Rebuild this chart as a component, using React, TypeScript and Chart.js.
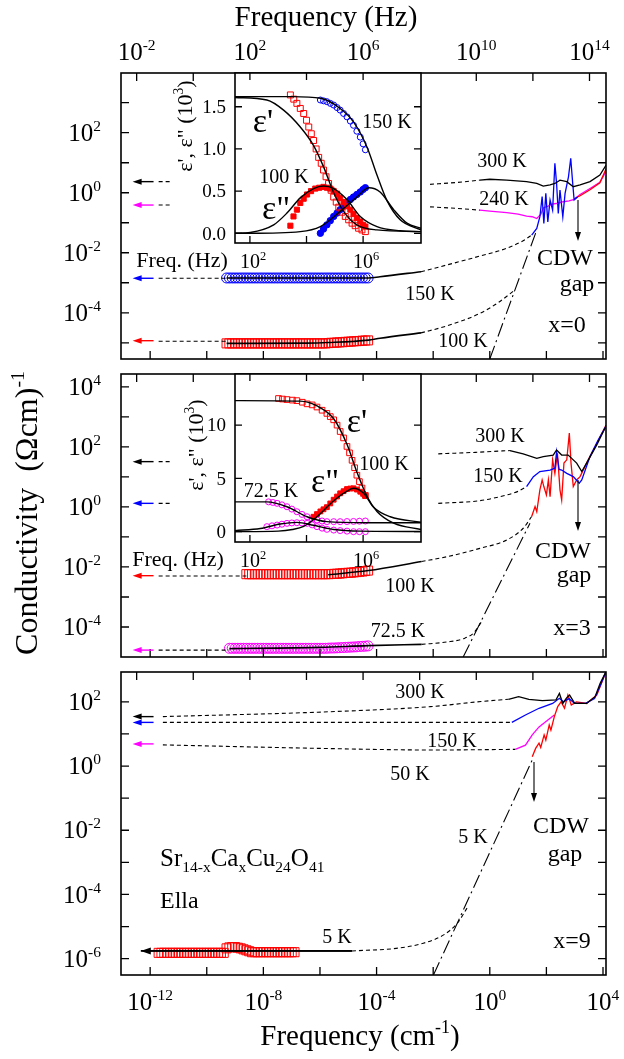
import React, { useEffect, useRef } from "react";
import { Chart, registerables } from "chart.js";

Chart.register(...registerables);

/* ---------------- page / frame geometry ---------------- */
const W = 624;
const H = 1059;
const SERIF = '"Liberation Serif", "Times New Roman", Times, serif';
const BLACK = "#000000";
const BLUE = "#0000ff";
const RED = "#ff0000";
const MAGENTA = "#ff00ff";

const FRAME_L = 121;
const FRAME_R = 606;
const PANEL_TOPS = [73, 374, 672];
const PANEL_BOTTOMS = [359, 657, 975];
const TICK = 8;
const TICK_FONT = 25;
const Y_LABEL_RIGHT = 101;
const TOP_LABEL_BASE = 60;
const BOTTOM_LABEL_BASE = 1010;

/* ---------------- axes (log10 units) ---------------- */
const X_LOG_MIN = -13.03; // log10(cm^-1) at left frame
const X_LOG_MAX = 4.106;
const HZ_SHIFT = 10.477; // log10(Hz per cm^-1)
const CM_TICKS = [-12, -10, -8, -6, -4, -2, 0, 2, 4];
const CM_LABELS = [-12, -8, -4, 0, 4];
const HZ_TICKS = [-2, 0, 2, 4, 6, 8, 10, 12, 14];
const HZ_LABELS = [-2, 2, 6, 10, 14];
const Y_RANGE = [
  [-5.54, 3.99],
  [-5.0, 4.43],
  [-6.51, 2.93],
];
const Y_LABELS = [
  [2, 0, -2, -4],
  [4, 2, 0, -2, -4],
  [2, 0, -2, -4, -6],
];

/* ---------------- x grids of dielectric bands (log10 cm^-1) ---------------- */
const GRID_A = [-9.3, -9.2, -9.1, -9.0, -8.9, -8.8, -8.7, -8.6, -8.5, -8.4, -8.3, -8.2, -8.1, -8.0, -7.9, -7.8, -7.7, -7.6, -7.5, -7.4, -7.3, -7.2, -7.1, -7.0, -6.9, -6.8, -6.7, -6.6, -6.5, -6.4, -6.3, -6.2, -6.1, -6.0, -5.9, -5.8, -5.7, -5.6, -5.5, -5.4, -5.3, -5.2, -5.1, -5.0, -4.9, -4.8, -4.7, -4.6, -4.5, -4.4, -4.3];
const GRID_B100 = [-8.6, -8.5, -8.4, -8.3, -8.2, -8.1, -8.0, -7.9, -7.8, -7.7, -7.6, -7.5, -7.4, -7.3, -7.2, -7.1, -7.0, -6.9, -6.8, -6.7, -6.6, -6.5, -6.4, -6.3, -6.2, -6.1, -6.0, -5.9, -5.8, -5.7, -5.6, -5.5, -5.4, -5.3, -5.2, -5.1, -5.0, -4.9, -4.8, -4.7, -4.6, -4.5, -4.4, -4.3];
const GRID_B72 = [-9.2, -9.1, -9.0, -8.9, -8.8, -8.7, -8.6, -8.5, -8.4, -8.3, -8.2, -8.1, -8.0, -7.9, -7.8, -7.7, -7.6, -7.5, -7.4, -7.3, -7.2, -7.1, -7.0, -6.9, -6.8, -6.7, -6.6, -6.5, -6.4, -6.3, -6.2, -6.1, -6.0, -5.9, -5.8, -5.7, -5.6, -5.5, -5.4, -5.3, -5.2, -5.1, -5.0, -4.9, -4.8, -4.7, -4.6, -4.5, -4.4, -4.3];
const GRID_C5 = [-11.7, -11.6, -11.5, -11.4, -11.3, -11.2, -11.1, -11.0, -10.9, -10.8, -10.7, -10.6, -10.5, -10.4, -10.3, -10.2, -10.1, -10.0, -9.9, -9.8, -9.7, -9.6, -9.5, -9.4, -9.3, -9.2, -9.1, -9.0, -8.9, -8.8, -8.7, -8.6, -8.5, -8.4, -8.3, -8.2, -8.1, -8.0, -7.9, -7.8, -7.7, -7.6, -7.5, -7.4, -7.3, -7.2, -7.1, -7.0, -6.9];
const LEAD_SHORT_X = [-11.7, -11.28];
const ARROW_TAIL_X = -11.88;
const ARROW_HEAD_X = -12.62;

/* ---------------- panel x = 0 (log10 values) ---------------- */
const A_ARROW_Y = [0.37, -0.41, -2.85, -4.93];
const A300_DASH_X = [-2.11, -1.2, -0.35];
const A300_DASH_Y = [0.28, 0.34, 0.42];
const A300_X = [-0.35, 0.0, 0.6, 1.3, 1.66, 1.89, 2.13, 2.3, 2.48, 2.72, 2.95, 3.19, 3.54, 3.89, 4.11];
const A300_Y = [0.42, 0.45, 0.42, 0.37, 0.31, 0.22, 0.26, 0.31, 0.42, 0.37, 0.2, 0.26, 0.37, 0.59, 0.92];
const A240_DASH_X = [-2.11, -1.2, -0.35];
const A240_DASH_Y = [-0.47, -0.52, -0.58];
const A240_X = [-0.35, 0.0, 0.6, 1.0, 1.3, 1.5, 1.66, 1.8, 1.9, 2.05, 2.2, 2.4, 2.6, 2.8, 2.98, 3.19, 3.54, 3.89, 4.11];
const A240_Y = [-0.58, -0.61, -0.66, -0.71, -0.78, -0.8, -0.86, -0.72, -0.5, -0.45, -0.38, -0.35, -0.3, -0.27, -0.22, -0.06, 0.14, 0.35, 0.72];
const A150_OPT_X = [1.48, 1.66, 1.77, 1.85, 1.91, 1.98, 2.05, 2.13, 2.22, 2.3, 2.36, 2.42, 2.48, 2.58, 2.66, 2.78, 2.86, 2.93, 2.98, 3.1];
const A150_OPT_Y = [-1.41, -1.19, -0.8, -0.13, -1.02, -0.02, -0.97, -0.24, -0.58, 0.98, 0.31, -0.69, 0.09, -0.8, -0.02, 0.53, 1.15, 0.31, -0.24, -0.14];
const A100_OPT_X = [2.98, 3.19, 3.54, 3.89, 4.11];
const A100_OPT_Y = [-0.2, -0.1, 0.1, 0.33, 0.8];
const A150_BAND_Y = [-2.84, -2.84, -2.84, -2.84, -2.84, -2.84, -2.84, -2.84, -2.84, -2.84, -2.84, -2.84, -2.84, -2.84, -2.84, -2.84, -2.84, -2.84, -2.84, -2.84, -2.84, -2.84, -2.84, -2.84, -2.84, -2.84, -2.84, -2.84, -2.84, -2.84, -2.84, -2.84, -2.84, -2.84, -2.84, -2.84, -2.84, -2.84, -2.84, -2.84, -2.84, -2.84, -2.84, -2.84, -2.84, -2.84, -2.84, -2.84, -2.84, -2.84, -2.84];
const A150_FIT_X = [-9.3, -6.5, -4.29, -3.88, -2.43];
const A150_FIT_Y = [-2.84, -2.84, -2.84, -2.8, -2.63];
const A150_DASH_X = [-2.43, -1.53, -0.35, 0.6, 1.18, 1.48];
const A150_DASH_Y = [-2.63, -2.41, -2.11, -1.85, -1.6, -1.41];
const A100_BAND_Y = [-5.02, -5.02, -5.02, -5.02, -5.02, -5.02, -5.02, -5.02, -5.02, -5.02, -5.02, -5.02, -5.02, -5.02, -5.02, -5.02, -5.02, -5.02, -5.02, -5.02, -5.02, -5.02, -5.02, -5.02, -5.02, -5.02, -5.02, -5.02, -5.02, -5.02, -5.02, -5.02, -5.02, -5.02, -5.02, -5.02, -5.01, -5.0, -5.0, -4.99, -4.985, -4.98, -4.97, -4.965, -4.96, -4.95, -4.945, -4.94, -4.93, -4.925, -4.92];
const A100_FIT_X = [-9.3, -6.5, -5.7, -4.29, -3.88, -2.43];
const A100_FIT_Y = [-5.02, -5.01, -4.99, -4.91, -4.85, -4.67];
const A100_DASH_X = [-2.43, -1.53, -0.35, 0.3, 0.89];
const A100_DASH_Y = [-4.67, -4.44, -4.02, -3.66, -3.24];
const A_DD_X = [0.0, 1.66];
const A_DD_Y = [-5.54, -1.24];

/* ---------------- panel x = 3 ---------------- */
const B_ARROW_Y = [1.51, 0.12, -2.29, -4.77];
const B300_DASH_X = [-1.82, -0.5, 0.71];
const B300_DASH_Y = [1.77, 1.82, 1.88];
const B300_X = [0.71, 1.18, 1.66, 1.89, 2.24, 2.36, 2.54, 2.77, 3.07, 3.25, 3.42, 3.78, 4.11];
const B300_Y = [1.88, 1.77, 1.62, 1.68, 1.73, 1.9, 1.73, 1.73, 1.46, 1.18, 1.46, 2.07, 2.7];
const B150_DASH_X = [-1.82, -0.35, 0.6, 1.0, 1.3];
const B150_DASH_Y = [0.12, 0.21, 0.4, 0.52, 0.68];
const B150_X = [1.3, 1.54, 1.77, 2.13, 2.3, 2.36, 2.45, 2.54, 2.72, 2.95, 3.16, 3.25, 3.54, 3.83, 4.11];
const B150_Y = [0.68, 1.01, 1.18, 1.23, 1.29, 1.84, 1.25, 1.23, 1.12, 1.01, 0.79, 0.9, 1.68, 2.23, 2.7];
const B100_OPT_X = [1.48, 1.6, 1.66, 1.77, 1.85, 1.91, 2.0, 2.07, 2.13, 2.22, 2.3, 2.39, 2.48, 2.54, 2.62, 2.72, 2.81, 2.87, 2.95, 3.07, 3.19, 3.42, 3.78, 4.11];
const B100_OPT_Y = [-0.32, 0.01, -0.16, 0.57, 0.9, 0.68, 0.4, 0.9, 0.34, 1.57, 1.12, 1.79, 0.57, 0.23, 1.46, 1.57, 2.46, 1.46, 0.68, 0.9, 1.01, 1.46, 2.12, 2.73];
const B100_BAND_Y = [-2.24, -2.24, -2.24, -2.24, -2.24, -2.24, -2.24, -2.24, -2.24, -2.24, -2.24, -2.24, -2.24, -2.24, -2.24, -2.24, -2.24, -2.24, -2.24, -2.24, -2.24, -2.24, -2.24, -2.24, -2.24, -2.24, -2.24, -2.24, -2.24, -2.24, -2.235, -2.23, -2.225, -2.22, -2.21, -2.2, -2.195, -2.19, -2.18, -2.17, -2.16, -2.15, -2.135, -2.12];
const B100_FIT_X = [-5.71, -4.29, -2.41];
const B100_FIT_Y = [-2.26, -2.12, -1.82];
const B100_DASH_X = [-2.41, -1.52, -0.35, 0.6, 1.18, 1.48];
const B100_DASH_Y = [-1.82, -1.66, -1.38, -1.1, -0.71, -0.32];
const B72_BAND_Y = [-4.71, -4.71, -4.71, -4.71, -4.71, -4.71, -4.71, -4.71, -4.71, -4.71, -4.71, -4.71, -4.71, -4.71, -4.71, -4.71, -4.71, -4.71, -4.71, -4.71, -4.71, -4.71, -4.71, -4.71, -4.71, -4.71, -4.71, -4.71, -4.71, -4.71, -4.71, -4.71, -4.71, -4.71, -4.71, -4.705, -4.7, -4.7, -4.695, -4.69, -4.685, -4.68, -4.675, -4.67, -4.665, -4.66, -4.65, -4.645, -4.64, -4.63];
const B72_FIT_X = [-9.2, -6.0, -4.29, -2.41];
const B72_FIT_Y = [-4.72, -4.68, -4.62, -4.58];
const B72_DASH_X = [-2.41, -1.52, -0.9, -0.55, -0.29];
const B72_DASH_Y = [-4.58, -4.5, -4.38, -4.18, -3.82];
const B_DD_X = [-0.94, 1.42];
const B_DD_Y = [-5.0, -0.54];

/* ---------------- panel x = 9 ---------------- */
const C_ARROW_Y = [1.54, 1.36, 0.69];
const C300_DASH_X = [-11.55, -5.72, -2.11, -0.31, 0.66];
const C300_DASH_Y = [1.54, 1.69, 1.85, 2.01, 2.08];
const C300_X = [0.66, 1.02, 1.38, 1.86, 2.34, 2.46, 2.58, 2.7, 2.82, 3.0, 3.42, 3.72, 3.9, 4.11];
const C300_Y = [2.08, 2.16, 2.08, 2.04, 2.06, 2.26, 1.95, 2.11, 2.21, 1.95, 1.95, 2.16, 2.58, 2.95];
const C150_DASH_X = [-11.55, 0.78];
const C150_DASH_Y = [1.36, 1.36];
const C150_X = [0.78, 1.26, 1.74, 2.22, 2.46, 2.6, 2.8, 3.0, 3.4, 3.7, 3.9, 4.11];
const C150_Y = [1.36, 1.59, 1.8, 1.95, 2.11, 2.0, 2.1, 1.95, 1.96, 2.1, 2.5, 2.95];
const C50_DASH_X = [-11.55, -6.0, -2.0, 0.9];
const C50_DASH_Y = [0.66, 0.55, 0.5, 0.52];
const C50_X = [0.9, 1.26, 1.5, 1.74, 2.04, 2.28];
const C50_Y = [0.52, 0.65, 0.97, 1.22, 1.43, 1.59];
const C5_OPT_X = [1.5, 1.62, 1.74, 1.8, 1.92, 1.98, 2.1, 2.16, 2.28, 2.4, 2.52, 2.64, 2.76, 2.88, 3.06, 3.42, 3.78, 4.11];
const C5_OPT_Y = [0.29, 0.55, 0.71, 0.58, 0.97, 0.81, 1.28, 1.12, 1.54, 1.85, 2.0, 1.8, 2.21, 1.9, 2.0, 1.95, 2.21, 2.95];
const C5_BAND_Y = [-5.82, -5.82, -5.82, -5.82, -5.82, -5.82, -5.82, -5.82, -5.82, -5.82, -5.82, -5.82, -5.82, -5.82, -5.82, -5.82, -5.82, -5.82, -5.82, -5.82, -5.82, -5.82, -5.82, -5.82, -5.68, -5.65, -5.64, -5.64, -5.66, -5.68, -5.71, -5.74, -5.77, -5.8, -5.8, -5.8, -5.8, -5.8, -5.8, -5.8, -5.8, -5.8, -5.8, -5.8, -5.8, -5.8, -5.8, -5.8, -5.8];
const C5_LINE_X = [-4.87, -12.33];
const C5_LINE_Y = -5.76;
const C5_DASH_X = [-4.87, -3.31, -2.35, -1.63, -1.15, -0.8];
const C5_DASH_Y = [-5.76, -5.68, -5.52, -5.26, -4.9, -4.42];
const C_DD_X = [-1.99, 1.5];
const C_DD_Y = [-6.51, 0.19];

/* ---------------- insets (x: log10 Hz, y: 10^3 units) ---------------- */
const INSET_X_LOG = [1.473, 8.046];
const INSET_X_TICKS = [2, 4, 6];
const INSET_X_LABELS = [2, 6];
const INSET_Y_RANGE = [
  [-0.115, 1.9],
  [-0.97, 14.8],
];
const INSET_Y_TICKS = [
  [0, 0.5, 1.0, 1.5],
  [0, 5, 10],
];
const INSET_Y_TICK_TEXT = [
  ["0.0", "0.5", "1.0", "1.5"],
  ["0", "5", "10"],
];

const IA100_E1_X = [3.43, 3.55, 3.66, 3.78, 3.9, 4.0, 4.08, 4.17, 4.25, 4.34, 4.43, 4.52, 4.6, 4.69, 4.78, 4.87, 4.96, 5.05, 5.14, 5.25, 5.37, 5.49, 5.61, 5.72, 5.84, 5.96, 6.08];
const IA100_E1_Y = [1.64, 1.59, 1.54, 1.48, 1.42, 1.34, 1.26, 1.18, 1.1, 1.0, 0.9, 0.83, 0.75, 0.67, 0.59, 0.51, 0.43, 0.37, 0.31, 0.25, 0.2, 0.16, 0.12, 0.09, 0.06, 0.04, 0.02];
const IA100_E1_FIT_X = [1.47, 2.6, 3.19, 3.78, 4.25, 4.6, 4.96, 5.31, 5.78, 6.49, 8.05];
const IA100_E1_FIT_Y = [1.61, 1.58, 1.46, 1.26, 1.04, 0.79, 0.48, 0.26, 0.1, 0.04, 0.02];
const IA100_E2_X = [3.43, 3.54, 3.66, 3.78, 3.9, 4.02, 4.16, 4.31, 4.45, 4.6, 4.72, 4.84, 4.96, 5.08, 5.19, 5.31, 5.43, 5.55, 5.66, 5.78, 5.9, 6.0, 6.08];
const IA100_E2_Y = [0.09, 0.2, 0.28, 0.36, 0.41, 0.46, 0.5, 0.53, 0.54, 0.55, 0.54, 0.53, 0.5, 0.47, 0.42, 0.37, 0.32, 0.28, 0.23, 0.18, 0.14, 0.1, 0.08];
const IA100_E2_FIT_X = [1.47, 2.01, 2.84, 3.31, 3.78, 4.25, 4.6, 4.96, 5.43, 5.9, 6.49, 7.31, 8.05];
const IA100_E2_FIT_Y = [0.0, 0.01, 0.1, 0.24, 0.42, 0.53, 0.56, 0.53, 0.4, 0.2, 0.08, 0.03, 0.02];
const IA150_E1_X = [4.49, 4.6, 4.72, 4.84, 4.96, 5.08, 5.19, 5.31, 5.43, 5.55, 5.66, 5.78, 5.9, 6.0, 6.08];
const IA150_E1_Y = [1.58, 1.57, 1.56, 1.54, 1.52, 1.49, 1.46, 1.42, 1.38, 1.33, 1.28, 1.21, 1.14, 1.06, 0.99];
const IA150_E1_FIT_X = [1.47, 3.5, 4.5, 5.19, 5.66, 6.14, 6.49, 6.84, 7.31, 8.05];
const IA150_E1_FIT_Y = [1.62, 1.62, 1.6, 1.48, 1.32, 1.02, 0.69, 0.39, 0.16, 0.04];
const IA150_E2_X = [4.49, 4.6, 4.72, 4.84, 4.96, 5.08, 5.19, 5.31, 5.43, 5.55, 5.66, 5.78, 5.9, 6.0, 6.08];
const IA150_E2_Y = [0.0, 0.05, 0.1, 0.15, 0.2, 0.24, 0.28, 0.32, 0.36, 0.4, 0.43, 0.46, 0.49, 0.52, 0.54];
const IA150_E2_FIT_X = [1.47, 2.01, 3.78, 4.49, 5.19, 5.78, 6.2, 6.6, 7.08, 7.55, 8.05];
const IA150_E2_FIT_Y = [0.0, 0.0, 0.02, 0.08, 0.26, 0.43, 0.54, 0.49, 0.28, 0.12, 0.06];

const IB100_E1_X = [3.01, 3.15, 3.31, 3.5, 3.66, 3.85, 4.02, 4.2, 4.37, 4.55, 4.72, 4.84, 4.96, 5.08, 5.19, 5.31, 5.43, 5.52, 5.61, 5.7, 5.78, 5.87, 5.96, 6.08];
const IB100_E1_Y = [12.5, 12.45, 12.4, 12.35, 12.3, 12.15, 12.0, 11.9, 11.7, 11.4, 11.1, 10.8, 10.5, 10.0, 9.4, 8.8, 8.0, 7.4, 6.7, 6.0, 5.3, 4.7, 4.1, 3.4];
const IB100_E1_FIT_X = [1.47, 3.78, 4.37, 4.96, 5.43, 5.78, 6.14, 6.49, 7.08, 8.05];
const IB100_E1_FIT_Y = [12.3, 12.25, 11.8, 10.6, 8.2, 5.6, 3.3, 1.9, 0.8, 0.2];
const IB100_E2_X = [4.25, 4.37, 4.49, 4.6, 4.72, 4.84, 4.96, 5.08, 5.19, 5.31, 5.43, 5.55, 5.66, 5.78, 5.9, 6.0, 6.08];
const IB100_E2_Y = [1.4, 1.65, 1.9, 2.1, 2.3, 2.65, 3.0, 3.3, 3.6, 3.8, 4.0, 4.05, 4.07, 3.95, 3.75, 3.55, 3.35];
const IB100_E2_FIT_X = [1.47, 3.0, 3.5, 3.9, 4.37, 4.96, 5.43, 5.66, 6.02, 6.37, 6.96, 8.05];
const IB100_E2_FIT_Y = [0.0, 0.05, 0.2, 0.5, 1.4, 2.9, 3.8, 4.07, 3.6, 2.3, 1.4, 0.88];
const IB72_E1_X = [2.66, 2.81, 2.96, 3.13, 3.31, 3.48, 3.66, 3.84, 4.02, 4.2, 4.37, 4.55, 4.72, 4.96, 5.19, 5.43, 5.66, 5.87, 6.08];
const IB72_E1_Y = [2.8, 2.74, 2.66, 2.52, 2.34, 2.12, 1.87, 1.62, 1.4, 1.22, 1.1, 1.0, 0.94, 0.94, 0.94, 0.95, 0.96, 0.98, 1.0];
const IB72_E1_FIT_X = [1.47, 2.6, 3.31, 4.02, 4.72, 6.14, 8.05];
const IB72_E1_FIT_Y = [2.8, 2.8, 2.34, 1.4, 0.94, 0.84, 0.84];
const IB72_E2_X = [2.6, 2.78, 2.96, 3.13, 3.31, 3.48, 3.66, 3.84, 4.02, 4.2, 4.37, 4.55, 4.72, 4.96, 5.19, 5.43, 5.66, 5.87, 6.08];
const IB72_E2_Y = [0.47, 0.55, 0.62, 0.7, 0.78, 0.82, 0.84, 0.82, 0.78, 0.64, 0.47, 0.33, 0.22, 0.15, 0.1, 0.05, 0.0, 0.0, 0.0];
const IB72_E2_FIT_X = [1.47, 2.37, 3.07, 3.66, 4.25, 4.96, 5.9, 8.05];
const IB72_E2_FIT_Y = [0.1, 0.3, 0.72, 0.87, 0.6, 0.2, 0.05, 0.02];

/* ---------------- annotation layout (pixels) ---------------- */
type Part = [string, number];
type Note = { parts: Part[]; x: number; base: number; size: number; align?: "left" | "center" | "right" };
const N = (s: string, x: number, base: number, size: number): Note => ({ parts: [[s, 0]], x, base, size });

const PANEL_NOTES: Note[][] = [
  [N("300 K", 502, 167, 20), N("240 K", 504, 205, 20), N("150 K", 430, 300, 20), N("100 K", 463, 347, 20), N("CDW", 565, 265, 24), N("gap", 577, 291, 24), N("x=0", 567, 332, 24)],
  [N("300 K", 500, 442, 20), N("150 K", 498, 482, 20), N("100 K", 410, 592, 20), N("72.5 K", 398, 637, 20), N("CDW", 563, 558, 24), N("gap", 574, 582, 24), N("x=3", 572, 635, 24)],
  [
    N("300 K", 420, 698, 20), N("150 K", 452, 747, 20), N("50 K", 410, 780, 20), N("CDW", 561, 833, 24), N("gap", 565, 861, 24),
    N("5 K", 473, 843, 20), N("5 K", 337, 943, 20), N("x=9", 572, 948, 24),
    { parts: [["Sr", 0], ["14-x", -1], ["Ca", 0], ["x", -1], ["Cu", 0], ["24", -1], ["O", 0], ["41", -1]], x: 160, base: 866, size: 25, align: "left" },
    { parts: [["Ella", 0]], x: 160, base: 908, size: 24, align: "left" },
  ],
];
const CDW_ARROWS = [
  [578, 200, 578, 241],
  [578, 480, 578, 531],
  [534, 762, 534, 802],
];
const INSET_BOX = [
  { left: 235, right: 421, top: 73, bottom: 243 },
  { left: 235, right: 421, top: 374, bottom: 542 },
];
const INSET_NOTES: Note[][] = [
  [N("ε'", 263, 132, 34), N("ε\"", 276, 219, 34), N("100 K", 284, 183, 20), N("150 K", 387, 128, 20)],
  [N("ε'", 357, 432, 34), N("ε\"", 325, 492, 34), N("100 K", 384, 470, 20), N("72.5 K", 271, 497, 20)],
];
const INSET_TITLE_POS = [
  [185, 126],
  [196, 445],
];
const INSET_XLAB_BASE = [268, 567];
const INSET_FREQ_POS = [
  [182, 267],
  [178, 566],
];

/* ---------------- helpers ---------------- */
const pts = (xs: number[], ys: number[]) => xs.map((x, i) => ({ x: Math.pow(10, x), y: Math.pow(10, ys[i]) }));
const ptsLin = (xs: number[], ys: number[]) => xs.map((x, i) => ({ x: Math.pow(10, x), y: ys[i] }));
const flat = (xs: number[], y: number) => xs.map((x) => ({ x: Math.pow(10, x), y: Math.pow(10, y) }));

function solid(data: any[], color: string, width = 1.3) {
  return { data, showLine: true, borderColor: color, backgroundColor: color, borderWidth: width, pointRadius: 0, tension: 0, fill: false };
}
function smooth(data: any[], color: string, width = 1.4) {
  return { ...solid(data, color, width), cubicInterpolationMode: "monotone" };
}
function dashed(data: any[]) {
  return { ...smooth(data, BLACK, 1.1), borderDash: [4, 3] };
}
function dashDot(data: any[]) {
  return { ...solid(data, BLACK, 1.1), borderDash: [14, 4, 2, 4] };
}
function marks(data: any[], color: string, style: string, r: number, filled: boolean) {
  return {
    data,
    showLine: false,
    pointStyle: style,
    pointRadius: r,
    pointBorderColor: color,
    pointBorderWidth: 1,
    pointBackgroundColor: filled ? color : "rgba(0,0,0,0)",
    borderColor: color,
  };
}

function drawRich(ctx: CanvasRenderingContext2D, parts: Part[], x: number, base: number, size: number, align: string = "center") {
  const small = size * 0.62;
  const widths = parts.map(([t, k]) => {
    ctx.font = `${k === 0 ? size : small}px ${SERIF}`;
    return ctx.measureText(t).width;
  });
  const total = widths.reduce((a, b) => a + b, 0);
  let cx = align === "left" ? x : align === "right" ? x - total : x - total / 2;
  ctx.textAlign = "left";
  ctx.textBaseline = "alphabetic";
  ctx.fillStyle = BLACK;
  parts.forEach(([t, k], i) => {
    ctx.font = `${k === 0 ? size : small}px ${SERIF}`;
    const dy = k === 1 ? -size * 0.4 : k === -1 ? size * 0.22 : 0;
    ctx.fillText(t, cx, base + dy);
    cx += widths[i];
  });
}
const pow10 = (e: number): Part[] => [["10", 0], [String(e), 1]];

function arrow(ctx: CanvasRenderingContext2D, x1: number, y1: number, x2: number, y2: number, color: string, head = 9, half = 3.2, lw = 1.3) {
  const a = Math.atan2(y2 - y1, x2 - x1);
  const c = Math.cos(a), s = Math.sin(a);
  ctx.strokeStyle = color;
  ctx.fillStyle = color;
  ctx.lineWidth = lw;
  ctx.setLineDash([]);
  ctx.beginPath();
  ctx.moveTo(x1, y1);
  ctx.lineTo(x2 - head * 0.7 * c, y2 - head * 0.7 * s);
  ctx.stroke();
  ctx.beginPath();
  ctx.moveTo(x2, y2);
  ctx.lineTo(x2 - head * c + half * s, y2 - head * s - half * c);
  ctx.lineTo(x2 - head * c - half * s, y2 - head * s + half * c);
  ctx.closePath();
  ctx.fill();
}

/* ---------------- panel datasets ---------------- */
function panelDatasets(k: number) {
  if (k === 0) {
    return [
      solid(pts(A300_X, A300_Y), BLACK),
      solid(pts(A150_OPT_X, A150_OPT_Y), BLUE),
      solid(pts(A100_OPT_X, A100_OPT_Y), RED),
      solid(pts(A240_X, A240_Y), MAGENTA),
      smooth(pts(A150_FIT_X, A150_FIT_Y), BLACK, 1.6),
      smooth(pts(A100_FIT_X, A100_FIT_Y), BLACK, 1.6),
      dashed(pts(A300_DASH_X, A300_DASH_Y)),
      dashed(pts(A240_DASH_X, A240_DASH_Y)),
      dashed(pts(A150_DASH_X, A150_DASH_Y)),
      dashed(pts(A100_DASH_X, A100_DASH_Y)),
      dashed(flat(LEAD_SHORT_X, A_ARROW_Y[0])),
      dashed(flat(LEAD_SHORT_X, A_ARROW_Y[1])),
      dashed(flat([LEAD_SHORT_X[0], GRID_A[0]], A_ARROW_Y[2])),
      dashed(flat([LEAD_SHORT_X[0], GRID_A[0]], -4.95)),
      dashDot(pts(A_DD_X, A_DD_Y)),
      marks(pts(GRID_A, A150_BAND_Y), BLUE, "circle", 5, false),
      marks(pts(GRID_A, A100_BAND_Y), RED, "rect", 6.4, false),
    ];
  }
  if (k === 1) {
    return [
      solid(pts(B300_X, B300_Y), BLACK),
      solid(pts(B150_X, B150_Y), BLUE),
      solid(pts(B100_OPT_X, B100_OPT_Y), RED),
      smooth(pts(B100_FIT_X, B100_FIT_Y), BLACK, 1.6),
      smooth(pts(B72_FIT_X, B72_FIT_Y), BLACK, 1.6),
      dashed(pts(B300_DASH_X, B300_DASH_Y)),
      dashed(pts(B150_DASH_X, B150_DASH_Y)),
      dashed(pts(B100_DASH_X, B100_DASH_Y)),
      dashed(pts(B72_DASH_X, B72_DASH_Y)),
      dashed(flat(LEAD_SHORT_X, B_ARROW_Y[0])),
      dashed(flat(LEAD_SHORT_X, B_ARROW_Y[1])),
      dashed(flat([LEAD_SHORT_X[0], GRID_B100[0]], -2.3)),
      dashed(flat([LEAD_SHORT_X[0], GRID_B72[0]], B_ARROW_Y[3])),
      dashDot(pts(B_DD_X, B_DD_Y)),
      marks(pts(GRID_B100, B100_BAND_Y), RED, "rect", 6.4, false),
      marks(pts(GRID_B72, B72_BAND_Y), MAGENTA, "circle", 5, false),
    ];
  }
  return [
    solid(pts(C300_X, C300_Y), BLACK),
    solid(pts(C150_X, C150_Y), BLUE),
    solid(pts(C5_OPT_X, C5_OPT_Y), RED),
    solid(pts(C50_X, C50_Y), MAGENTA),
    solid(flat(C5_LINE_X, C5_LINE_Y), BLACK, 1.8),
    dashed(pts(C300_DASH_X, C300_DASH_Y)),
    dashed(pts(C150_DASH_X, C150_DASH_Y)),
    dashed(pts(C50_DASH_X, C50_DASH_Y)),
    dashed(pts(C5_DASH_X, C5_DASH_Y)),
    dashDot(pts(C_DD_X, C_DD_Y)),
    marks(pts(GRID_C5, C5_BAND_Y), RED, "rect", 6.4, false),
  ];
}

const PANEL_ARROWS = [
  [
    [A_ARROW_Y[0], BLACK],
    [A_ARROW_Y[1], MAGENTA],
    [A_ARROW_Y[2], BLUE],
    [A_ARROW_Y[3], RED],
  ],
  [
    [B_ARROW_Y[0], BLACK],
    [B_ARROW_Y[1], BLUE],
    [B_ARROW_Y[2], RED],
    [B_ARROW_Y[3], MAGENTA],
  ],
  [
    [C_ARROW_Y[0], BLACK],
    [C_ARROW_Y[1], BLUE],
    [C_ARROW_Y[2], MAGENTA],
  ],
];

function panelDecor(k: number) {
  return {
    id: "panelDecor" + k,
    afterDraw(chart: any) {
      const ctx: CanvasRenderingContext2D = chart.ctx;
      const { left, right, top, bottom } = chart.chartArea;
      const sx = chart.scales.x;
      const sy = chart.scales.y;
      const px = (v: number) => sx.getPixelForValue(Math.pow(10, v));
      const py = (v: number) => sy.getPixelForValue(Math.pow(10, v));
      ctx.save();
      ctx.setLineDash([]);
      ctx.strokeStyle = BLACK;
      ctx.lineWidth = 1.3;
      ctx.beginPath();
      const [ymin, ymax] = Y_RANGE[k];
      for (let e = Math.ceil(ymin + 0.05); e <= Math.floor(ymax - 0.05); e++) {
        const y = py(e);
        ctx.moveTo(left, y);
        ctx.lineTo(left + TICK, y);
        ctx.moveTo(right, y);
        ctx.lineTo(right - TICK, y);
      }
      CM_TICKS.forEach((e) => {
        const x = px(e);
        if (x > left + 1 && x < right - 1) {
          ctx.moveTo(x, bottom);
          ctx.lineTo(x, bottom - TICK);
        }
      });
      HZ_TICKS.forEach((e) => {
        const x = px(e - HZ_SHIFT);
        if (x > left + 1 && x < right - 1) {
          ctx.moveTo(x, top);
          ctx.lineTo(x, top + TICK);
        }
      });
      ctx.stroke();
      ctx.lineWidth = 1.6;
      ctx.strokeRect(left, top, right - left, bottom - top);

      Y_LABELS[k].forEach((e) => drawRich(ctx, pow10(e), Y_LABEL_RIGHT, py(e) + TICK_FONT * 0.33, TICK_FONT, "right"));
      if (k === 0) {
        HZ_LABELS.forEach((e) => drawRich(ctx, pow10(e), px(e - HZ_SHIFT), TOP_LABEL_BASE, TICK_FONT, "center"));
        drawRich(ctx, [["Frequency (Hz)", 0]], 326, 26, 29, "center");
      }
      if (k === 2) {
        CM_LABELS.forEach((e) => drawRich(ctx, pow10(e), px(e), BOTTOM_LABEL_BASE, TICK_FONT, "center"));
        drawRich(ctx, [["Frequency (cm", 0], ["-1", 1], [")", 0]], 360, 1045, 29, "center");
      }
      if (k === 1) {
        ctx.save();
        ctx.translate(26, 513);
        ctx.rotate(-Math.PI / 2);
        drawRich(ctx, [["Conductivity  (Ωcm)", 0], ["-1", 1]], 0, 32 * 0.33, 32, "center");
        ctx.restore();
      }

      PANEL_ARROWS[k].forEach(([yv, col]: any) => {
        const y = py(yv);
        arrow(ctx, px(ARROW_TAIL_X), y, px(ARROW_HEAD_X), y, col, 9, 3, 1.4);
      });
      if (k === 2) {
        const y = py(C5_LINE_Y);
        arrow(ctx, px(C5_LINE_X[0]), y, px(C5_LINE_X[1]), y, BLACK, 10, 3.5, 1.8);
      }
      const ca = CDW_ARROWS[k];
      arrow(ctx, ca[0], ca[1], ca[2], ca[3], BLACK, 9, 3, 1.1);

      PANEL_NOTES[k].forEach((n) => drawRich(ctx, n.parts, n.x, n.base, n.size, n.align || "center"));
      ctx.restore();
    },
  };
}

function panelConfig(k: number): any {
  return {
    type: "scatter",
    data: { datasets: panelDatasets(k) },
    options: {
      responsive: false,
      animation: false,
      devicePixelRatio: 1,
      events: [],
      layout: { padding: { left: FRAME_L, right: W - FRAME_R, top: PANEL_TOPS[k], bottom: H - PANEL_BOTTOMS[k] } },
      scales: {
        x: { type: "logarithmic", min: Math.pow(10, X_LOG_MIN), max: Math.pow(10, X_LOG_MAX), display: false },
        y: { type: "logarithmic", min: Math.pow(10, Y_RANGE[k][0]), max: Math.pow(10, Y_RANGE[k][1]), display: false },
      },
      plugins: { legend: { display: false }, tooltip: { enabled: false } },
    },
    plugins: [panelDecor(k)],
  };
}

/* ---------------- insets ---------------- */
function insetDatasets(k: number) {
  if (k === 0) {
    return [
      smooth(ptsLin(IA100_E1_FIT_X, IA100_E1_FIT_Y), BLACK, 1.4),
      smooth(ptsLin(IA100_E2_FIT_X, IA100_E2_FIT_Y), BLACK, 1.4),
      smooth(ptsLin(IA150_E1_FIT_X, IA150_E1_FIT_Y), BLACK, 1.4),
      smooth(ptsLin(IA150_E2_FIT_X, IA150_E2_FIT_Y), BLACK, 1.4),
      marks(ptsLin(IA100_E1_X, IA100_E1_Y), RED, "rect", 4.2, false),
      marks(ptsLin(IA100_E2_X, IA100_E2_Y), RED, "rect", 3.6, true),
      marks(ptsLin(IA150_E1_X, IA150_E1_Y), BLUE, "circle", 3, false),
      marks(ptsLin(IA150_E2_X, IA150_E2_Y), BLUE, "circle", 3.2, true),
    ];
  }
  return [
    smooth(ptsLin(IB100_E1_FIT_X, IB100_E1_FIT_Y), BLACK, 1.4),
    smooth(ptsLin(IB100_E2_FIT_X, IB100_E2_FIT_Y), BLACK, 1.4),
    smooth(ptsLin(IB72_E1_FIT_X, IB72_E1_FIT_Y), BLACK, 1.4),
    smooth(ptsLin(IB72_E2_FIT_X, IB72_E2_FIT_Y), BLACK, 1.4),
    marks(ptsLin(IB100_E1_X, IB100_E1_Y), RED, "rect", 4.0, false),
    marks(ptsLin(IB100_E2_X, IB100_E2_Y), RED, "rect", 3.4, true),
    marks(ptsLin(IB72_E1_X, IB72_E1_Y), MAGENTA, "circle", 3, false),
    marks(ptsLin(IB72_E2_X, IB72_E2_Y), MAGENTA, "circle", 3, false),
  ];
}

function insetDecor(k: number) {
  return {
    id: "insetDecor" + k,
    beforeDatasetsDraw(chart: any) {
      const ctx: CanvasRenderingContext2D = chart.ctx;
      const { left, right, top, bottom } = chart.chartArea;
      ctx.save();
      ctx.fillStyle = "#ffffff";
      ctx.fillRect(left, top, right - left, bottom - top);
      ctx.fillRect(172, top + 10, left - 172, bottom - top + 4);
      ctx.restore();
    },
    afterDraw(chart: any) {
      const ctx: CanvasRenderingContext2D = chart.ctx;
      const { left, right, top, bottom } = chart.chartArea;
      const sx = chart.scales.x;
      const sy = chart.scales.y;
      ctx.save();
      ctx.setLineDash([]);
      ctx.strokeStyle = BLACK;
      ctx.lineWidth = 1.3;
      ctx.beginPath();
      INSET_X_TICKS.forEach((e) => {
        const x = sx.getPixelForValue(Math.pow(10, e));
        ctx.moveTo(x, bottom);
        ctx.lineTo(x, bottom - 7);
        ctx.moveTo(x, top);
        ctx.lineTo(x, top + 7);
      });
      INSET_Y_TICKS[k].forEach((v) => {
        const y = sy.getPixelForValue(v);
        ctx.moveTo(left, y);
        ctx.lineTo(left + 7, y);
        ctx.moveTo(right, y);
        ctx.lineTo(right - 7, y);
      });
      ctx.stroke();
      ctx.lineWidth = 1.6;
      ctx.strokeRect(left, top, right - left, bottom - top);

      INSET_Y_TICKS[k].forEach((v, i) => {
        drawRich(ctx, [[INSET_Y_TICK_TEXT[k][i], 0]], 226, sy.getPixelForValue(v) + 19 * 0.33, 19, "right");
      });
      INSET_X_LABELS.forEach((e) => {
        const x = sx.getPixelForValue(Math.pow(10, e));
        ctx.font = `20px ${SERIF}`;
        const w = ctx.measureText("10").width;
        drawRich(ctx, pow10(e), x - w / 2, INSET_XLAB_BASE[k], 20, "left");
      });
      drawRich(ctx, [["Freq. (Hz)", 0]], INSET_FREQ_POS[k][0], INSET_FREQ_POS[k][1], 22, "center");
      ctx.save();
      ctx.translate(INSET_TITLE_POS[k][0], INSET_TITLE_POS[k][1]);
      ctx.rotate(-Math.PI / 2);
      drawRich(ctx, [["ε', ε\" (10", 0], ["3", 1], [")", 0]], 0, 22 * 0.33, 22, "center");
      ctx.restore();
      INSET_NOTES[k].forEach((n) => drawRich(ctx, n.parts, n.x, n.base, n.size, n.align || "center"));
      ctx.restore();
    },
  };
}

function insetConfig(k: number): any {
  const b = INSET_BOX[k];
  return {
    type: "scatter",
    data: { datasets: insetDatasets(k) },
    options: {
      responsive: false,
      animation: false,
      devicePixelRatio: 1,
      events: [],
      layout: { padding: { left: b.left, right: W - b.right, top: b.top, bottom: H - b.bottom } },
      scales: {
        x: { type: "logarithmic", min: Math.pow(10, INSET_X_LOG[0]), max: Math.pow(10, INSET_X_LOG[1]), display: false },
        y: { type: "linear", min: INSET_Y_RANGE[k][0], max: INSET_Y_RANGE[k][1], display: false },
      },
      plugins: { legend: { display: false }, tooltip: { enabled: false } },
    },
    plugins: [insetDecor(k)],
  };
}

export default function App() {
  const r0 = useRef<HTMLCanvasElement>(null);
  const r1 = useRef<HTMLCanvasElement>(null);
  const r2 = useRef<HTMLCanvasElement>(null);
  const r3 = useRef<HTMLCanvasElement>(null);
  const r4 = useRef<HTMLCanvasElement>(null);
  const refs = [r0, r1, r2, r3, r4];

  useEffect(() => {
    document.body.style.margin = "0";
    const charts = [
      new Chart(r0.current as any, panelConfig(0)),
      new Chart(r1.current as any, panelConfig(1)),
      new Chart(r2.current as any, panelConfig(2)),
      new Chart(r3.current as any, insetConfig(0)),
      new Chart(r4.current as any, insetConfig(1)),
    ];
    return () => charts.forEach((c) => c.destroy());
  }, []);

  return (
    <div style={{ position: "absolute", left: 0, top: 0, width: W, height: H, background: "#ffffff" }}>
      {refs.map((r, i) => (
        <canvas key={i} ref={r} width={W} height={H} style={{ position: "absolute", left: 0, top: 0, width: W, height: H }} />
      ))}
    </div>
  );
}
